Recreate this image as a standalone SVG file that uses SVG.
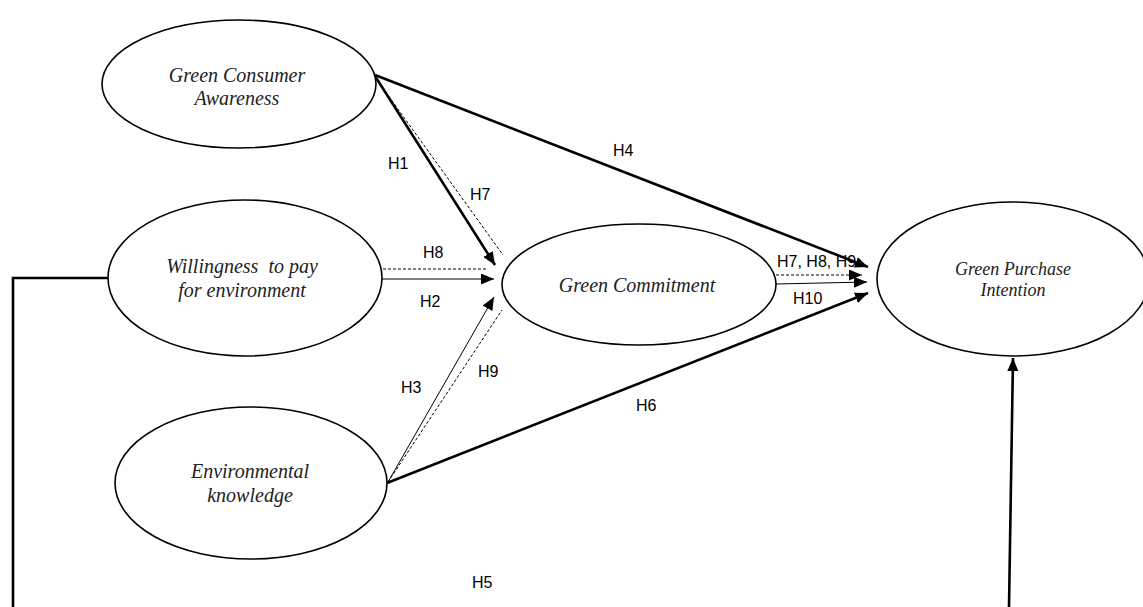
<svg xmlns="http://www.w3.org/2000/svg" width="1143" height="607" viewBox="0 0 1143 607">
<style>
.node ellipse{fill:#fff;stroke:#000;stroke-width:1.6}
.nt{font-family:"Liberation Serif","Times New Roman",serif;font-style:italic;font-size:20px;fill:#222;text-anchor:middle}
.lbl{font-family:"Liberation Sans",Arial,sans-serif;font-size:16px;fill:#000}
.thick{stroke:#000;stroke-width:2.6;fill:none}
.thin{stroke:#000;stroke-width:1;fill:none}
.dash{stroke:#000;stroke-width:1;fill:none;stroke-dasharray:3 2}
</style>
<defs>
<marker id="ah" markerUnits="userSpaceOnUse" markerWidth="13" markerHeight="11" refX="13" refY="5.5" orient="auto">
<path d="M0,0 L13,5.5 L0,11 z" fill="#000"/>
</marker>
</defs>
<rect width="1143" height="607" fill="#fff"/>
<g id="connectors">
<polyline class="thick" points="108,278 13,278 13,607"/>
<line class="thick" x1="1009" y1="607" x2="1013" y2="358" marker-end="url(#ah)"/>
<line class="thick" x1="375" y1="75" x2="868" y2="267" marker-end="url(#ah)"/>
<line class="thick" x1="375" y1="76" x2="495" y2="265" marker-end="url(#ah)"/>
<line class="dash" x1="377" y1="80" x2="503" y2="255"/>
<line class="dash" x1="383" y1="269" x2="487" y2="269"/>
<line class="thin" x1="382" y1="279" x2="494" y2="279" marker-end="url(#ah)"/>
<line class="thin" x1="388" y1="482" x2="494" y2="297" marker-end="url(#ah)"/>
<line class="dash" x1="388" y1="482" x2="502" y2="310"/>
<line class="thick" x1="387" y1="483" x2="868" y2="293" marker-end="url(#ah)"/>
<line class="dash" x1="776" y1="275" x2="862" y2="275" marker-end="url(#ah)"/>
<line class="thin" x1="776" y1="284" x2="867" y2="282" marker-end="url(#ah)"/>
</g>
<g id="labels">
<text class="lbl" x="388" y="169">H1</text>
<text class="lbl" x="470" y="200">H7</text>
<text class="lbl" x="613" y="156">H4</text>
<text class="lbl" x="423" y="258">H8</text>
<text class="lbl" x="420" y="307">H2</text>
<text class="lbl" x="478" y="377">H9</text>
<text class="lbl" x="401" y="393">H3</text>
<text class="lbl" x="636" y="411">H6</text>
<text class="lbl" x="777" y="267">H7, H8, H9</text>
<text class="lbl" x="793" y="304">H10</text>
<text class="lbl" x="472" y="588">H5</text>
</g>
<g id="gca" class="node">
<ellipse cx="239" cy="84" rx="137" ry="64"/>
<text class="nt" x="237" y="82">Green Consumer</text>
<text class="nt" x="237" y="105">Awareness</text>
</g>
<g id="wtp" class="node">
<ellipse cx="245" cy="278" rx="137" ry="78"/>
<text class="nt" x="242" y="273" xml:space="preserve">Willingness  to pay</text>
<text class="nt" x="242" y="297">for environment</text>
</g>
<g id="gc" class="node">
<ellipse cx="639" cy="284.5" rx="137" ry="60.5"/>
<text class="nt" x="637" y="292">Green Commitment</text>
</g>
<g id="gpi" class="node">
<ellipse cx="1013" cy="279" rx="136" ry="77"/>
<text class="nt" x="1013" y="275" style="font-size:18px">Green Purchase</text>
<text class="nt" x="1013" y="296" style="font-size:18px">Intention</text>
</g>
<g id="ek" class="node">
<ellipse cx="251" cy="483" rx="136" ry="76"/>
<text class="nt" x="250" y="478">Environmental</text>
<text class="nt" x="250" y="502">knowledge</text>
</g>
</svg>
